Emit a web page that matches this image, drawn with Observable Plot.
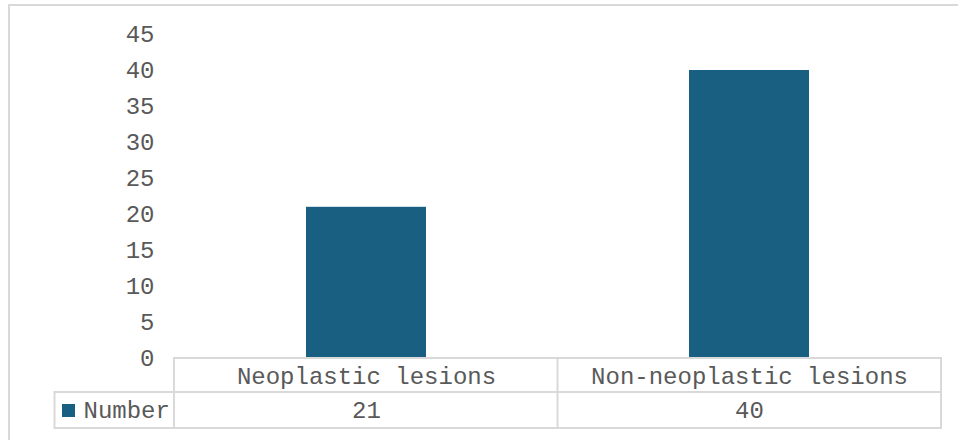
<!DOCTYPE html>
<html>
<head>
<meta charset="utf-8">
<script src="https://cdn.jsdelivr.net/npm/d3@7"></script>
<script src="https://cdn.jsdelivr.net/npm/@observablehq/plot@0.6"></script>
<style>
  html, body { margin: 0; padding: 0; background: #ffffff; }
  #chart svg { display: block; }
</style>
</head>
<body>
<div id="chart"></div>
<script>
const categories = ["Neoplastic lesions", "Non-neoplastic lesions"];
const counts = [21, 40];
const seriesName = "Number";
const yTicks = [0, 5, 10, 15, 20, 25, 30, 35, 40, 45];

const barColor = "#185f81";
const textColor = "#595959";
const lineColor = "#d9d9d9";
const font = "'Liberation Mono', 'Courier New', monospace";

const data = categories.map((c, i) => ({category: c, value: counts[i]}));

const tableRowH = 34;

function tableMark(index, scales, values, dims) {
  const {width, height, marginLeft, marginRight, marginBottom} = dims;
  const g = d3.create("svg:g");
  const x0 = marginLeft, x1 = width - marginRight;
  const yTop = height - marginBottom;
  const yMid = yTop + tableRowH;
  const yBot = yMid + tableRowH + 2;
  const legendLeft = 54.5;
  const step = (x1 - x0) / categories.length;
  const ln = (xa, ya, xb, yb) => g.append("line")
    .attr("x1", xa).attr("y1", ya).attr("x2", xb).attr("y2", yb)
    .attr("stroke", lineColor).attr("stroke-width", 2);
  // outer chart frame (top + left)
  g.append("path").attr("d", `M9,${height + 5}V5H${width + 5}`)
    .attr("fill", "none").attr("stroke", lineColor).attr("stroke-width", 2);
  // table horizontal lines
  ln(x0, yTop, x1, yTop);
  ln(legendLeft, yMid, x1, yMid);
  ln(legendLeft, yBot, x1, yBot);
  // vertical lines
  ln(legendLeft, yMid - 1, legendLeft, yBot + 1);
  for (let i = 0; i <= categories.length; i++) {
    const xx = x0 + i * step;
    ln(xx, yTop - 1, xx, yBot + 1);
  }
  // legend swatch
  g.append("rect").attr("x", 62).attr("y", yMid + 12).attr("width", 13).attr("height", 13)
    .attr("fill", barColor);
  return g.node();
}

const chart = Plot.plot({
  width: 958,
  height: 440,
  marginTop: 34,
  marginBottom: 82,
  marginLeft: 174,
  marginRight: 17,
  style: {fontFamily: font, fontSize: "24px", color: textColor, background: "#ffffff"},
  x: {domain: categories, paddingInner: 0.687, paddingOuter: 0.3435, axis: null},
  y: {domain: [0, 45], axis: null},
  marks: [
    Plot.barY(data, {x: "category", y: "value", fill: barColor}),
    Plot.axisY({ticks: yTicks, tickSize: 0, tickPadding: 20, fill: textColor, fontSize: 24, label: null}),
    tableMark,
    Plot.text(categories, {x: d => d, frameAnchor: "bottom", dy: 18, fill: textColor, fontSize: 24, lineAnchor: "middle"}),
    Plot.text(data, {x: "category", text: d => String(d.value), frameAnchor: "bottom", dy: 52, fill: textColor, fontSize: 24, lineAnchor: "middle"}),
    Plot.text([seriesName], {frameAnchor: "bottom-left", dx: -91, dy: 52, textAnchor: "start", fill: textColor, fontSize: 24, lineAnchor: "middle"})
  ]
});
document.getElementById("chart").appendChild(chart);
</script>
</body>
</html>
